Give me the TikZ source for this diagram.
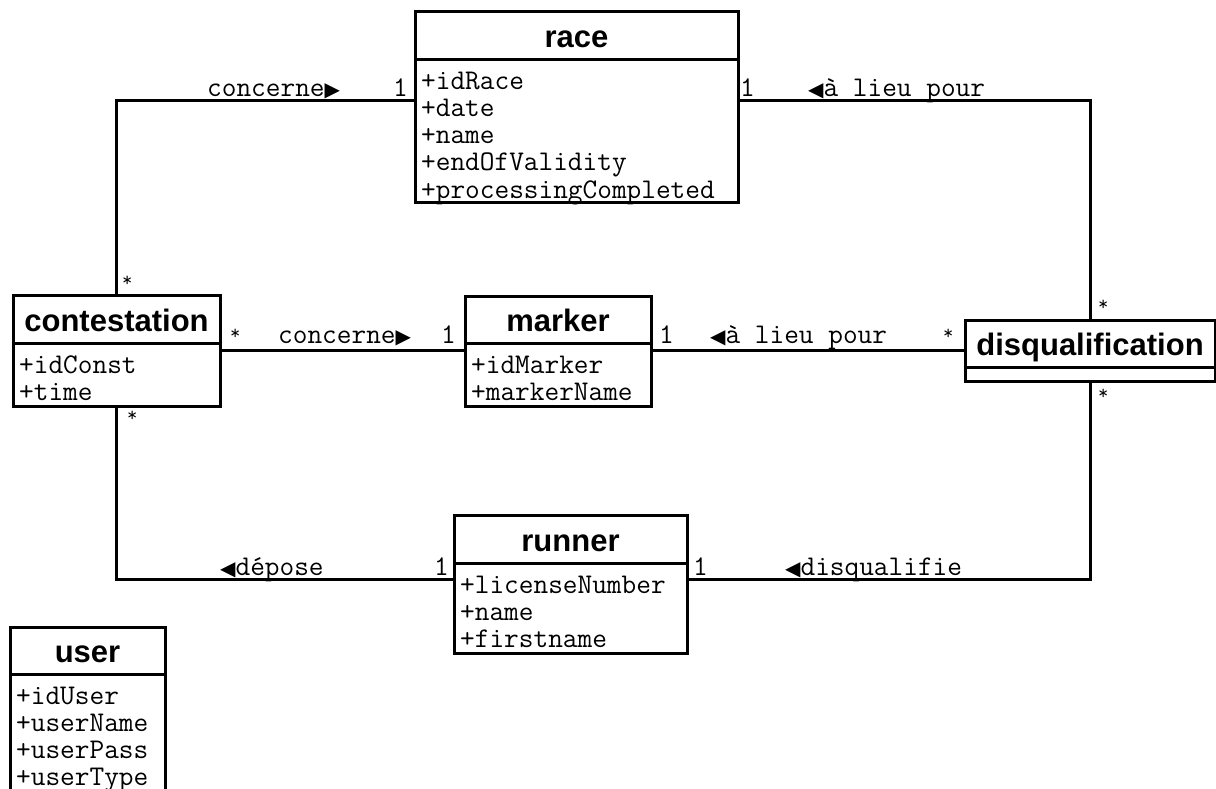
\documentclass[tikz,border=0pt]{standalone}
\usepackage{fontspec}
\setmainfont{Liberation Sans}
\newfontfamily\symfont{DejaVu Sans}
\usetikzlibrary{fit}

% navigation triangles of the association names
\newcommand\rtri{{\symfont\fontsize{20}{20}\selectfont ▶}}
\newcommand\ltri{{\symfont\fontsize{20}{20}\selectfont ◀}}

\tikzset{
  classbox/.style={draw, line width=3pt, fill=white, inner sep=0pt},
  classline/.style={line width=3pt},
  title/.style={font=\fontsize{31}{31}\selectfont\bfseries, inner sep=0pt, anchor=base},
  attr/.style={font=\ttfamily\fontsize{28.5}{27}\selectfont, inner sep=0pt, anchor=base west},
  lbl/.style={attr},
  star/.style={font=\ttfamily\fontsize{20}{20}\selectfont, inner sep=0pt, anchor=base west},
  assoc/.style={line width=3pt},
}

% class box: name, x1, y1, x2, y of the divider, y2, title
\newcommand\umlclass[7]{%
  \node[classbox, fit={(#2,#3) (#4,#6)}] (#1) {};
  \draw[classline] (#2,#5) -- (#4,#5);
  \node[title] at ({(#2+#4)/2},{#5-12}) {#7};
}
% attribute list of a class: x1, y of the divider, attributes
\newcommand\umlattrs[3]{%
  \foreach \a [count=\i] in {#3}
    \node[attr] at ({#1+6},{#2+30+27*(\i-1)}) {\a};
}

\begin{document}
\begin{tikzpicture}[x=1pt, y=-1pt]
\useasboundingbox (0,0) rectangle (1216,789);
\clip (0,0) rectangle (1216,789);

% classes
\umlclass{race}{415}{12}{738}{60}{202}{race}
\umlattrs{415}{60}{+idRace,+date,+name,+endOfValidity,+processingCompleted}

\umlclass{cont}{13}{295}{220}{343}{406}{contestation}
\umlattrs{13}{343}{+idConst,+time}

\umlclass{marker}{465}{296}{651}{343}{406}{marker}
\umlattrs{465}{343}{+idMarker,+markerName}

\umlclass{disq}{965}{320}{1215}{367}{381}{disqualification}

\umlclass{runner}{454}{515}{687}{563}{653}{runner}
\umlattrs{454}{563}{+licenseNumber,+name,+firstname}

\umlclass{user}{10}{627}{165}{674}{830}{user}
\umlattrs{10}{674}{+idUser,+userName,+userPass,+userType}

% routing levels of the associations
\coordinate (topy) at (0,101);
\coordinate (midy) at (0,350);
\coordinate (boty) at (0,579);

% associations
\draw[assoc] (race.west |- topy) -| (cont.north);
\draw[assoc] (race.east |- topy) -| (disq.north);
\draw[assoc] (cont.east |- midy) -- (marker.west |- midy);
\draw[assoc] (marker.east |- midy) -- (disq.west |- midy);
\draw[assoc] (cont.south) |- (runner.west |- boty);
\draw[assoc] (disq.south) |- (runner.east |- boty);

% association names and multiplicities
\node[lbl] (l1) at (207,97) {concerne\rtri};
\node[lbl] (m1) at (393,97) {1};
\node[lbl] (m2) at (740,97) {1};
\node[lbl] (l2) at (808,97) {\ltri à lieu pour};
\node[star] (s1) at (122,286) {*};

\node[star] (s2) at (230,339) {*};
\node[lbl] (l3) at (278,343) {concerne\rtri};
\node[lbl] (m3) at (441,343) {1};
\node[lbl] (m4) at (659,343) {1};
\node[lbl] (l4) at (710,343) {\ltri à lieu pour};
\node[star] (s3) at (943,339) {*};

\node[star] (s4) at (1098,310) {*};
\node[star] (s5) at (1098,399) {*};
\node[star] (s6) at (127,421) {*};

\node[lbl] (l5) at (220,575) {\ltri dépose};
\node[lbl] (m5) at (434,575) {1};
\node[lbl] (m6) at (693,575) {1};
\node[lbl] (l6) at (785,575) {\ltri disqualifie};
\end{tikzpicture}
\end{document}
